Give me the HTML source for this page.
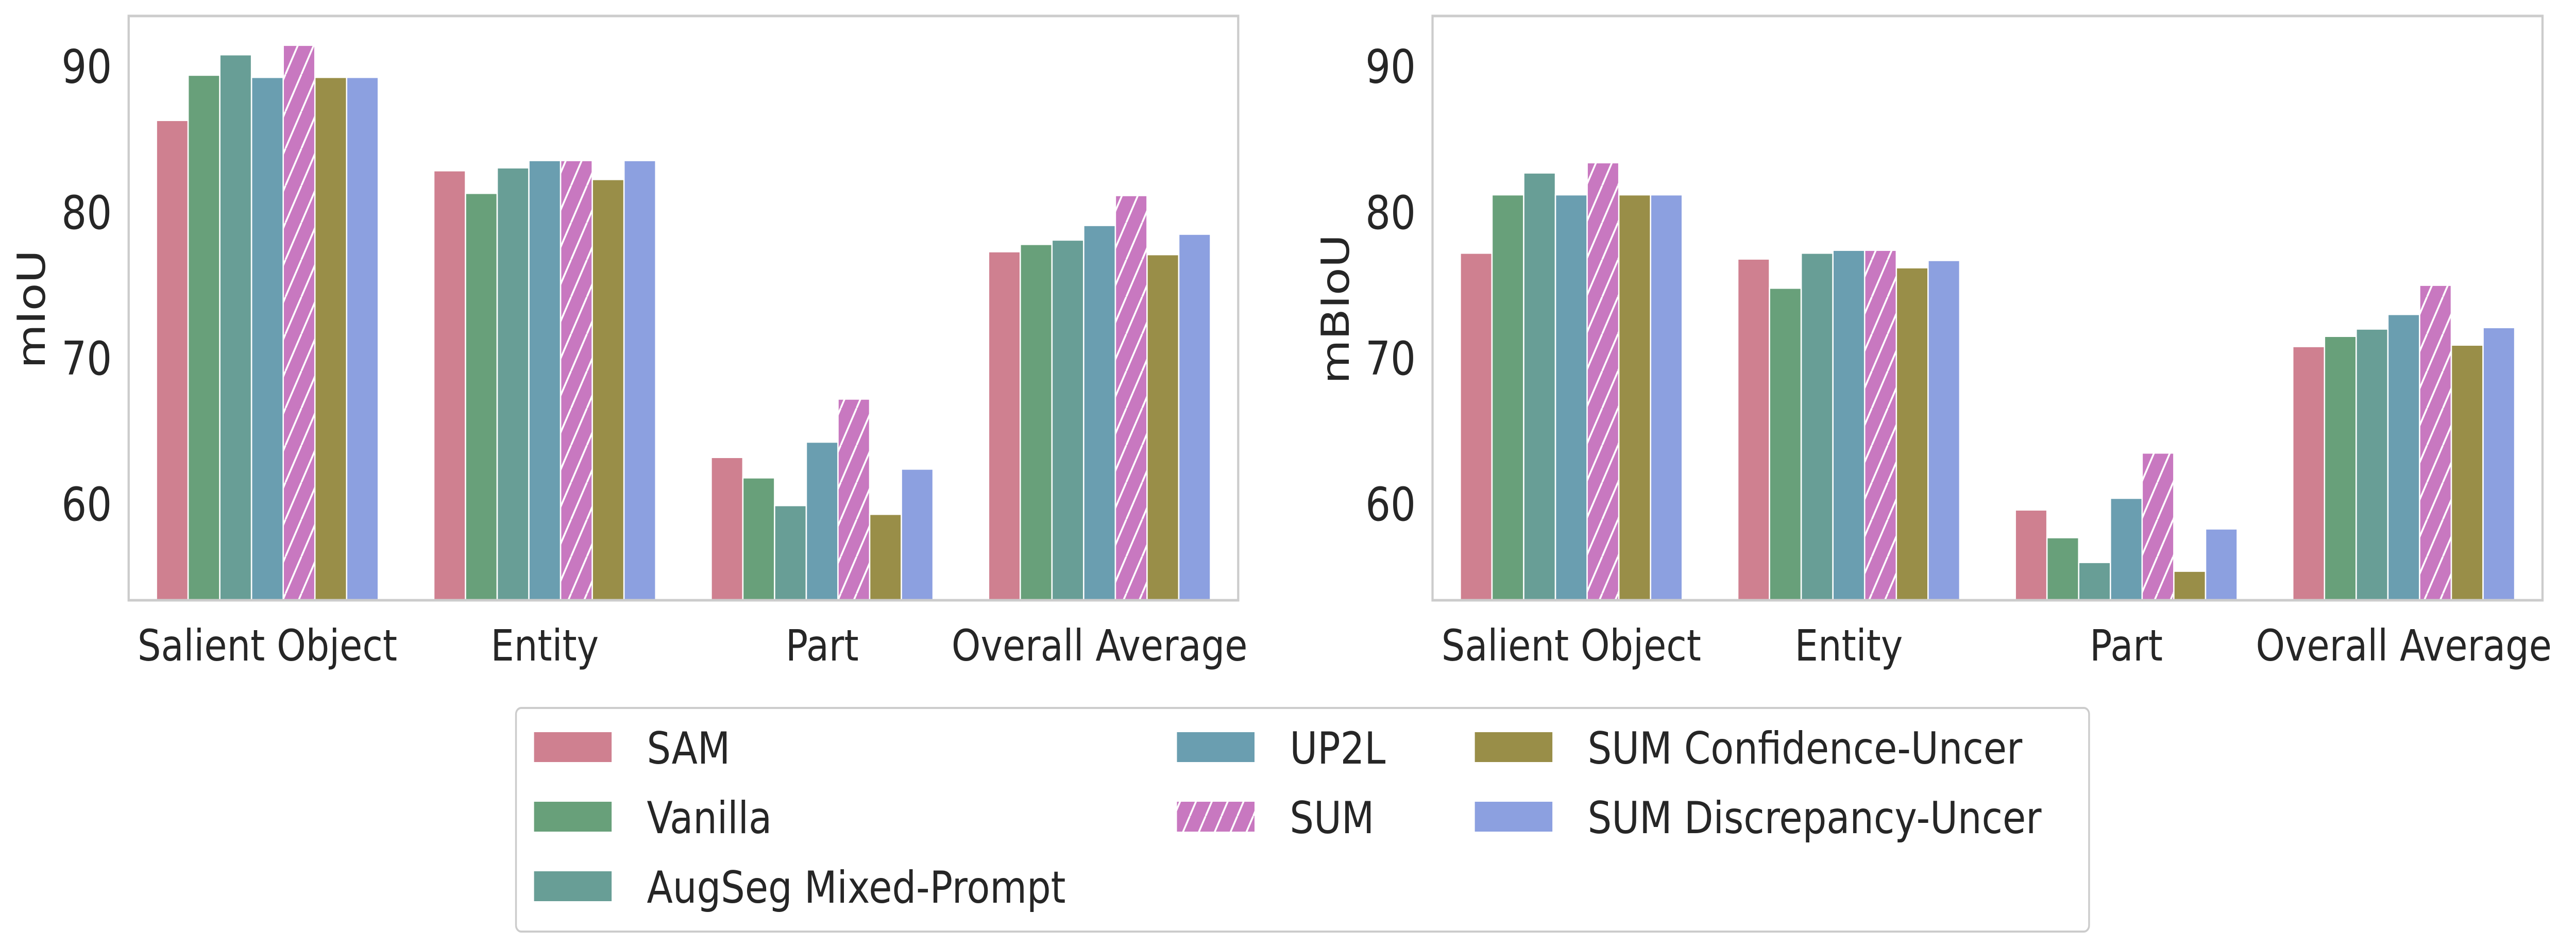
<!DOCTYPE html>
<html><head><meta charset="utf-8"><style>
html,body{margin:0;padding:0;background:#fff;width:100vw;height:100vh;overflow:hidden;}
svg{display:block;width:100vw;height:100vh;font-family:"DejaVu Sans","Liberation Sans",sans-serif;}
</style></head><body>
<svg id="c" viewBox="0 0 5846 1836" preserveAspectRatio="none" xmlns="http://www.w3.org/2000/svg">
<defs>
<pattern id="hatch" patternUnits="userSpaceOnUse" width="36" height="72">
<rect width="36" height="72" fill="#c878c0"/>
<line x1="0" y1="72" x2="36" y2="0" stroke="#fff" stroke-width="4"/>
<line x1="-36" y1="72" x2="0" y2="0" stroke="#fff" stroke-width="4"/>
<line x1="36" y1="72" x2="72" y2="0" stroke="#fff" stroke-width="4"/>
</pattern>
</defs>
</svg>
<script>
const categories = ["Salient Object","Entity","Part","Overall Average"];
const seriesNames = ["SAM","Vanilla","AugSeg Mixed-Prompt","UP2L","SUM","SUM Confidence-Uncer","SUM Discrepancy-Uncer"];
const seriesColors = ["#cf8090","#68a07a","#689e96","#6a9eb0","url(#hatch)","#998e48","#8ca0e0"];
const miouSAM = [86.3,82.85,63.2,77.3];
const miouVanilla = [89.4,81.3,61.8,77.8];
const miouAugSeg = [90.8,83.05,59.9,78.1];
const miouUP2L = [89.25,83.55,64.25,79.1];
const miouSUM = [91.45,83.55,67.2,81.15];
const miouConf = [89.25,82.25,59.3,77.1];
const miouDisc = [89.25,83.55,62.4,78.5];
const mbiouSAM = [77.2,76.8,59.6,70.8];
const mbiouVanilla = [81.2,74.8,57.7,71.5];
const mbiouAugSeg = [82.7,77.2,56.0,72.0];
const mbiouUP2L = [81.2,77.4,60.4,73.0];
const mbiouSUM = [83.4,77.4,63.5,75.0];
const mbiouConf = [81.2,76.2,55.4,70.9];
const mbiouDisc = [81.2,76.7,58.3,72.1];
const yTicks = [60,70,80,90];

const NS="http://www.w3.org/2000/svg";
const svg=document.getElementById('c');
function mk(tag,attrs,parent){const e=document.createElementNS(NS,tag);for(const k in attrs)e.setAttribute(k,attrs[k]);(parent||svg).appendChild(e);return e;}

function panel(x0,x1,yLabel,series,pname){
  const y0=31,y1=1165,ymin=53.4,ymax=93.45;
  const g=mk('g',{});
  
  
  const ys=v=>y1-(v-ymin)/(ymax-ymin)*(y1-y0);
  const gw=(x1-x0)/categories.length;
  const xs=i=>x0+gw*(i+0.5);
  const bw=gw*0.8/series.length;
  series.forEach((vals,s)=>{
    vals.forEach((v,i)=>{
      const r=mk('rect',{x:xs(i)-gw*0.4+s*bw,y:ys(v),width:bw,height:y1-ys(v),fill:seriesColors[s],stroke:'#fff','stroke-width':3},g);
      
      
    });
  });
  const fr=mk('rect',{x:x0,y:y0,width:x1-x0,height:y1-y0,fill:'none',stroke:'#cccccc','stroke-width':5},g);
  
  
  yTicks.forEach(t=>{
    const tx=mk('text',{x:x0-38,y:ys(t)+32,'text-anchor':'end','font-size':90,fill:'#262626'},g);
    tx.textContent=t;
    
    
  });
  categories.forEach((c,i)=>{
    const tx=mk('text',{x:xs(i),y:1282,'text-anchor':'middle','font-size':84,fill:'#262626'},g);
    tx.textContent=c;
    
    
  });
  const yl=mk('text',{x:0,y:0,transform:`translate(${x0-190},600) rotate(-90)`,'text-anchor':'middle','font-size':88,fill:'#262626'},g);
  yl.textContent=yLabel;
  
  
}
panel(292,2810,'mIoU',[miouSAM,miouVanilla,miouAugSeg,miouUP2L,miouSUM,miouConf,miouDisc],'miou-panel');
panel(3251,5770,'mBIoU',[mbiouSAM,mbiouVanilla,mbiouAugSeg,mbiouUP2L,mbiouSUM,mbiouConf,mbiouDisc],'mbiou-panel');

// legend
const lg=mk('g',{});


mk('rect',{x:1171,y:1374,width:3570,height:434,rx:12,fill:'#fff',stroke:'#cccccc','stroke-width':4},lg);
const colX=[1211,2670,3346];
const rowY=[1450,1585,1720];
const layout=[[0,0],[0,1],[0,2],[1,0],[1,1],[2,0],[2,1]];
seriesNames.forEach((n,s)=>{
  const [c,r]=layout[s];
  const e=mk('g',{},lg);
  
  
  mk('rect',{x:colX[c],y:rowY[r]-30,width:178,height:60,fill:seriesColors[s],stroke:'#fff','stroke-width':2},e);
  const t=mk('text',{x:colX[c]+257,y:rowY[r]+32,'font-size':86,fill:'#262626'},e);
  t.textContent=n;
});
</script>
</body></html>
